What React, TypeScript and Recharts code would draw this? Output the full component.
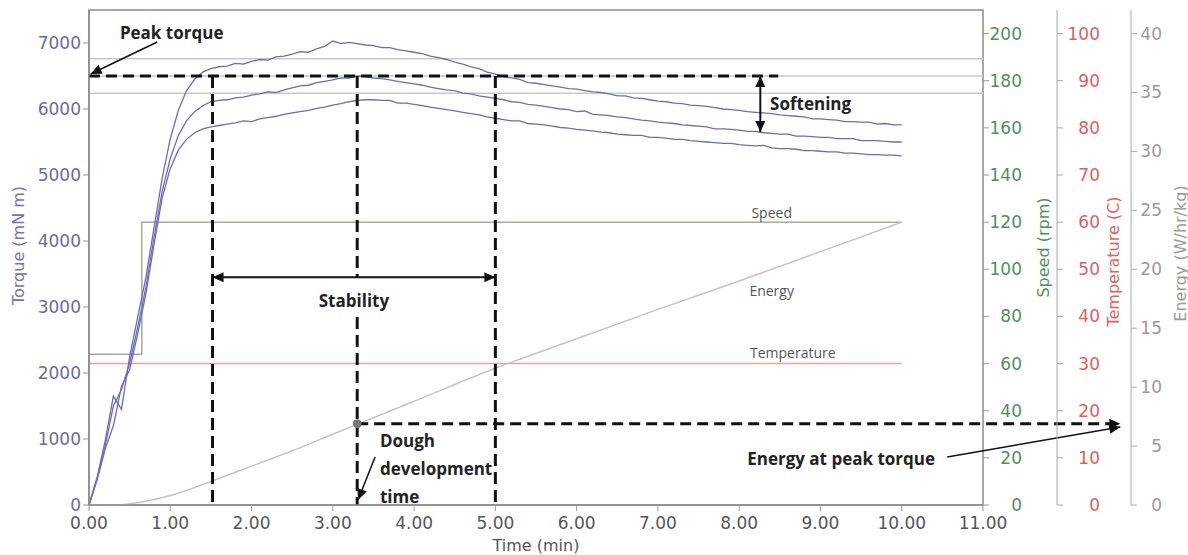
import React from 'react';
import {
  ComposedChart, Line, XAxis, YAxis, ReferenceLine, ReferenceArea, ReferenceDot,
} from 'recharts';

// time grid (min) for the three torque traces
const TIME = [
  0.0, 0.1, 0.2, 0.3, 0.4, 0.5, 0.6, 0.7, 0.8, 0.9,
  1.0, 1.1, 1.2, 1.3, 1.4, 1.5, 1.6, 1.7, 1.8, 1.9,
  2.0, 2.1, 2.2, 2.3, 2.4, 2.5, 2.6, 2.7, 2.8, 2.9,
  3.0, 3.1, 3.2, 3.3, 3.4, 3.5, 3.6, 3.7, 3.8, 3.9,
  4.0, 4.1, 4.2, 4.3, 4.4, 4.5, 4.6, 4.7, 4.8, 4.9,
  5.0, 5.1, 5.2, 5.3, 5.4, 5.5, 5.6, 5.7, 5.8, 5.9,
  6.0, 6.1, 6.2, 6.3, 6.4, 6.5, 6.6, 6.7, 6.8, 6.9,
  7.0, 7.1, 7.2, 7.3, 7.4, 7.5, 7.6, 7.7, 7.8, 7.9,
  8.0, 8.1, 8.2, 8.3, 8.4, 8.5, 8.6, 8.7, 8.8, 8.9,
  9.0, 9.1, 9.2, 9.3, 9.4, 9.5, 9.6, 9.7, 9.8, 9.9,
  10.0,
];

const TORQUE_UPPER = [
  0, 420, 980, 1650, 1450, 2250, 2850, 3450, 4200, 4950,
  5550, 5980, 6280, 6450, 6560, 6610, 6640, 6650, 6690, 6680,
  6720, 6750, 6740, 6790, 6800, 6830, 6870, 6860, 6910, 6950,
  7030, 6990, 7010, 6990, 6970, 6960, 6930, 6930, 6900, 6880,
  6860, 6840, 6800, 6780, 6750, 6710, 6680, 6640, 6610, 6560,
  6530, 6490, 6470, 6450, 6400, 6390, 6370, 6350, 6330, 6310,
  6300, 6280, 6260, 6250, 6230, 6200, 6200, 6170, 6160, 6140,
  6120, 6110, 6090, 6080, 6060, 6050, 6040, 6020, 6000, 5990,
  5980, 5960, 5950, 5940, 5930, 5910, 5900, 5890, 5880, 5850,
  5850, 5840, 5830, 5810, 5810, 5800, 5800, 5770, 5780, 5760,
  5760,
];

const TORQUE_MIDDLE = [
  0, 400, 900, 1500, 1750, 2150, 2700, 3300, 4050, 4750,
  5250, 5600, 5820, 5960, 6050, 6110, 6130, 6140, 6170, 6180,
  6210, 6230, 6260, 6250, 6290, 6320, 6350, 6360, 6400, 6420,
  6440, 6470, 6470, 6500, 6490, 6470, 6460, 6440, 6420, 6400,
  6380, 6360, 6330, 6310, 6290, 6280, 6240, 6230, 6200, 6180,
  6160, 6140, 6110, 6100, 6070, 6060, 6040, 6020, 6000, 5990,
  5960, 5970, 5920, 5910, 5900, 5880, 5870, 5850, 5830, 5820,
  5800, 5790, 5780, 5760, 5750, 5740, 5730, 5700, 5700, 5690,
  5680, 5660, 5660, 5640, 5630, 5620, 5620, 5590, 5590, 5580,
  5570, 5570, 5550, 5550, 5550, 5520, 5520, 5520, 5510, 5500,
  5500,
];

const TORQUE_LOWER = [
  0, 380, 850, 1200, 1800, 2050, 2600, 3200, 3950, 4650,
  5100, 5380, 5540, 5640, 5700, 5730, 5750, 5770, 5790, 5820,
  5810, 5850, 5870, 5890, 5920, 5940, 5960, 5980, 6010, 6030,
  6060, 6080, 6110, 6130, 6140, 6140, 6130, 6130, 6090, 6090,
  6070, 6050, 6030, 6010, 5990, 5970, 5950, 5930, 5910, 5880,
  5860, 5840, 5820, 5820, 5780, 5770, 5760, 5740, 5720, 5710,
  5690, 5680, 5670, 5650, 5640, 5620, 5610, 5600, 5600, 5570,
  5570, 5560, 5540, 5540, 5520, 5510, 5500, 5490, 5480, 5480,
  5460, 5450, 5440, 5450, 5410, 5400, 5400, 5390, 5370, 5370,
  5360, 5350, 5350, 5330, 5330, 5320, 5310, 5310, 5300, 5300,
  5290,
];

const SPEED_TIME = [0, 0.65, 0.65, 10];
const SPEED_RPM = [64, 64, 120, 120];

const TEMP_TIME = [0, 10];
const TEMP_C = [30, 30];

const ENERGY_TIME = [0, 0.3, 0.6, 1.0, 1.5, 2.0, 2.5, 3.0, 3.5, 4.0, 5.0, 6.0, 7.0, 8.0, 9.0, 10.0];
const ENERGY_WHKG = [0, 0, 0.2, 0.8, 2.0, 3.3, 4.6, 6.0, 7.4, 8.8, 11.6, 14.1, 16.6, 19.0, 21.5, 24.0];

const X_TICKS = [0, 1, 2, 3, 4, 5, 6, 7, 8, 9, 10, 11];
const TORQUE_TICKS = [0, 1000, 2000, 3000, 4000, 5000, 6000, 7000];
const SPEED_TICKS = [0, 20, 40, 60, 80, 100, 120, 140, 160, 180, 200];
const TEMP_TICKS = [0, 10, 20, 30, 40, 50, 60, 70, 80, 90, 100];
const ENERGY_TICKS = [0, 5, 10, 15, 20, 25, 30, 35, 40];

// annotation values
const PEAK_TORQUE = 6500;
const BAND_LINES = [6760, 6500, 6240];
const STABILITY_START = 1.52;
const DDT = 3.3;
const STABILITY_END = 5.0;
const SOFTENING_AT = 8.26;
const SOFTENING_LOW = 5650;
const ENERGY_AT_PEAK = 6.9;

// axis ids sort in the order the right-hand axes are stacked
const AX_TORQUE = 'a0';
const AX_SPEED = 'r1';
const AX_TEMP = 'r2';
const AX_ENERGY = 'r3';

const TORQUE_COLOR = '#6c6cba';
const TICK_FONT = 'DejaVu Sans';
const NOTE_FONT = '"Open Sans", sans-serif';

const pairs = (xs: number[], ys: number[]) => xs.map((t, i) => ({ t, v: ys[i] }));

const upperData = pairs(TIME, TORQUE_UPPER);
const middleData = pairs(TIME, TORQUE_MIDDLE);
const lowerData = pairs(TIME, TORQUE_LOWER);
const speedData = pairs(SPEED_TIME, SPEED_RPM);
const tempData = pairs(TEMP_TIME, TEMP_C);
const energyData = pairs(ENERGY_TIME, ENERGY_WHKG);

const headPoints = (x1: number, y1: number, x2: number, y2: number, len = 11, half = 5) => {
  const a = Math.atan2(y2 - y1, x2 - x1);
  const bx = x2 - len * Math.cos(a);
  const by = y2 - len * Math.sin(a);
  const px = -Math.sin(a) * half;
  const py = Math.cos(a) * half;
  return `${x2},${y2} ${bx + px},${by + py} ${bx - px},${by - py}`;
};

type ArrowOpts = { start?: boolean; end?: boolean; dash?: string; width?: number };

const arrow = ({ start, end, dash, width = 2 }: ArrowOpts) => (p: any) => {
  const { x1, y1, x2, y2 } = p;
  return (
    <g>
      <line x1={x1} y1={y1} x2={x2} y2={y2} stroke="#111" strokeWidth={width} strokeDasharray={dash} />
      {end && <polygon points={headPoints(x1, y1, x2, y2)} fill="#111" />}
      {start && <polygon points={headPoints(x2, y2, x1, y1)} fill="#111" />}
    </g>
  );
};

const note = (lines: string[], opts: { anchor?: 'start' | 'middle' | 'end'; bold?: boolean; size?: number; color?: string; bg?: boolean; gap?: number } = {}) =>
  (p: any) => {
    const { anchor = 'start', bold = true, size = 17, color = '#222', bg = false, gap = 28 } = opts;
    return (
      <g>
        {bg && <rect x={p.cx - 40} y={p.cy - 14} width={80} height={28} fill="#fff" />}
        <text
          x={p.cx}
          y={p.cy}
          textAnchor={anchor}
          dominantBaseline="central"
          fontFamily={NOTE_FONT}
          fontWeight={bold ? 700 : 400}
          fontSize={size}
          fill={color}
        >
          {lines.map((l, i) => (
            <tspan key={l} x={p.cx} dy={i === 0 ? 0 : gap}>{l}</tspan>
          ))}
        </text>
      </g>
    );
  };

const rightTick = (color: string, dx: number) => (p: any) => (
  <text x={p.x + dx} y={p.y} dy="0.35em" textAnchor="end" fill={color} fontSize={17} fontFamily={TICK_FONT}>
    {p.payload.value}
  </text>
);

const vTitle = (text: string, color: string, dx: number, dy: number) => (p: any) => {
  const vb = p.viewBox;
  const cx = vb.x + dx;
  const cy = vb.y + vb.height / 2 + dy;
  return (
    <text
      x={cx}
      y={cy}
      transform={`rotate(-90, ${cx}, ${cy})`}
      textAnchor="middle"
      dominantBaseline="central"
      fill={color}
      fontSize={16}
      fontFamily={TICK_FONT}
    >
      {text}
    </text>
  );
};

const timeTitle = (p: any) => {
  const vb = p.viewBox;
  return (
    <text x={vb.x + vb.width / 2} y={vb.y + 40} textAnchor="middle" dominantBaseline="central" fill="#555" fontSize={16} fontFamily={TICK_FONT}>
      Time (min)
    </text>
  );
};

export default function App() {
  return (
    <div style={{ position: 'absolute', left: 0, top: 0, background: '#fff' }}>
      <ComposedChart width={1188} height={555} margin={{ top: 10, right: 0, bottom: 0, left: 0 }}>
        <XAxis
          dataKey="t"
          type="number"
          domain={[0, 11]}
          ticks={X_TICKS}
          tickFormatter={(v: number) => v.toFixed(2)}
          height={50}
          tick={{ fill: '#555', fontSize: 17, fontFamily: TICK_FONT }}
          tickLine={{ stroke: '#999' }}
          axisLine={{ stroke: '#8c8c8c', strokeWidth: 1.5 }}
          tickMargin={6}
          label={timeTitle}
        />
        <YAxis
          yAxisId={AX_TORQUE}
          orientation="left"
          width={89}
          domain={[0, 7500]}
          ticks={TORQUE_TICKS}
          tick={{ fill: '#6a6aa6', fontSize: 17, fontFamily: TICK_FONT }}
          tickLine={{ stroke: '#999' }}
          axisLine={{ stroke: '#8c8c8c', strokeWidth: 1.5 }}
          label={vTitle('Torque (mN m)', '#7373b0', 18, -12)}
        />
        <YAxis
          yAxisId={AX_SPEED}
          orientation="right"
          width={74}
          domain={[0, 210]}
          ticks={SPEED_TICKS}
          tick={rightTick('#4f8f5f', 31)}
          tickLine={{ stroke: '#999' }}
          axisLine={false}
          label={vTitle('Speed (rpm)', '#4f8f5f', 60, -10)}
        />
        <YAxis
          yAxisId={AX_TEMP}
          orientation="right"
          width={74}
          domain={[0, 105]}
          ticks={TEMP_TICKS}
          tick={rightTick('#e06060', 35)}
          tickLine={{ stroke: '#aaa' }}
          axisLine={{ stroke: '#aaa' }}
          label={vTitle('Temperature (C)', '#e06060', 56, 4)}
        />
        <YAxis
          yAxisId={AX_ENERGY}
          orientation="right"
          width={57}
          domain={[0, 42]}
          ticks={ENERGY_TICKS}
          tick={rightTick('#9a9a9a', 23)}
          tickLine={{ stroke: '#aaa' }}
          axisLine={{ stroke: '#aaa' }}
          label={vTitle('Energy (W/hr/kg)', '#9a9a9a', 49, -4)}
        />

        <ReferenceArea yAxisId={AX_TORQUE} x1={0} x2={11} y1={0} y2={7500} fill="none" stroke="#8c8c8c" strokeWidth={1.5} ifOverflow="visible" />
        {BAND_LINES.map((y) => (
          <ReferenceLine key={y} yAxisId={AX_TORQUE} y={y} stroke="#c9c9c9" strokeWidth={1.5} />
        ))}

        <Line yAxisId={AX_TEMP} data={tempData} dataKey="v" stroke="#e8a4a4" strokeWidth={1.5} dot={false} isAnimationActive={false} />
        <Line yAxisId={AX_SPEED} data={speedData} dataKey="v" stroke="#a3ac98" strokeWidth={1.5} dot={false} isAnimationActive={false} />
        <Line yAxisId={AX_ENERGY} data={energyData} dataKey="v" type="monotone" stroke="#c4c4c4" strokeWidth={1.5} dot={false} isAnimationActive={false} />
        <Line yAxisId={AX_TORQUE} data={lowerData} dataKey="v" stroke={TORQUE_COLOR} strokeWidth={1.3} dot={false} isAnimationActive={false} />
        <Line yAxisId={AX_TORQUE} data={middleData} dataKey="v" stroke={TORQUE_COLOR} strokeWidth={1.3} dot={false} isAnimationActive={false} />
        <Line yAxisId={AX_TORQUE} data={upperData} dataKey="v" stroke={TORQUE_COLOR} strokeWidth={1.3} dot={false} isAnimationActive={false} />

        {/* peak torque guide and the time markers */}
        <ReferenceLine yAxisId={AX_TORQUE} segment={[{ x: 0, y: PEAK_TORQUE }, { x: 8.48, y: PEAK_TORQUE }]} ifOverflow="visible" shape={arrow({ dash: '11 6', width: 3 })} />
        <ReferenceLine yAxisId={AX_TORQUE} segment={[{ x: STABILITY_START, y: PEAK_TORQUE }, { x: STABILITY_START, y: 0 }]} shape={arrow({ dash: '12 6', width: 3 })} />
        <ReferenceLine yAxisId={AX_TORQUE} segment={[{ x: DDT, y: PEAK_TORQUE }, { x: DDT, y: 3450 }]} shape={arrow({ dash: '12 6', width: 3 })} />
        <ReferenceLine yAxisId={AX_TORQUE} segment={[{ x: DDT, y: 2850 }, { x: DDT, y: 0 }]} shape={arrow({ dash: '12 6', width: 3 })} />
        <ReferenceLine yAxisId={AX_TORQUE} segment={[{ x: STABILITY_END, y: PEAK_TORQUE }, { x: STABILITY_END, y: 0 }]} shape={arrow({ dash: '12 6', width: 3 })} />
        <ReferenceLine yAxisId={AX_TORQUE} segment={[{ x: STABILITY_START, y: 3450 }, { x: STABILITY_END, y: 3450 }]} shape={arrow({ start: true, end: true, width: 2 })} />
        <ReferenceLine yAxisId={AX_TORQUE} segment={[{ x: SOFTENING_AT, y: PEAK_TORQUE }, { x: SOFTENING_AT, y: SOFTENING_LOW }]} shape={arrow({ start: true, end: true, width: 2 })} />
        <ReferenceLine yAxisId={AX_TORQUE} segment={[{ x: 0.84, y: 7015 }, { x: 0.02, y: 6530 }]} ifOverflow="visible" shape={arrow({ end: true, width: 1.5 })} />
        <ReferenceLine yAxisId={AX_TORQUE} segment={[{ x: 3.52, y: 727 }, { x: 3.31, y: 76 }]} shape={arrow({ end: true, width: 1.5 })} />
        <ReferenceLine yAxisId={AX_ENERGY} segment={[{ x: DDT, y: ENERGY_AT_PEAK }, { x: 12.69, y: ENERGY_AT_PEAK }]} ifOverflow="visible" shape={arrow({ end: true, dash: '11 6', width: 3 })} />
        <ReferenceLine yAxisId={AX_TORQUE} segment={[{ x: 10.56, y: 727 }, { x: 12.69, y: 1182 }]} ifOverflow="visible" shape={arrow({ end: true, width: 1.5 })} />

        <ReferenceDot yAxisId={AX_ENERGY} x={DDT} y={ENERGY_AT_PEAK} r={4} fill="#777" stroke="#777" />

        {/* text notes */}
        <ReferenceDot yAxisId={AX_TORQUE} x={0.38} y={7167} ifOverflow="visible" shape={note(['Peak torque'])} />
        <ReferenceDot yAxisId={AX_TORQUE} x={8.38} y={6090} shape={note(['Softening'])} />
        <ReferenceDot yAxisId={AX_TORQUE} x={3.26} y={3106} shape={note(['Stability'], { anchor: 'middle', bg: true })} />
        <ReferenceDot yAxisId={AX_TORQUE} x={3.58} y={985} shape={note(['Dough', 'development', 'time'])} />
        <ReferenceDot yAxisId={AX_TORQUE} x={10.41} y={712} ifOverflow="visible" shape={note(['Energy at peak torque'], { anchor: 'end' })} />
        <ReferenceDot yAxisId={AX_TORQUE} x={8.4} y={4439} shape={note(['Speed'], { anchor: 'middle', bold: false, size: 14, color: '#555' })} />
        <ReferenceDot yAxisId={AX_TORQUE} x={8.4} y={3258} shape={note(['Energy'], { anchor: 'middle', bold: false, size: 14, color: '#555' })} />
        <ReferenceDot yAxisId={AX_TORQUE} x={8.66} y={2318} shape={note(['Temperature'], { anchor: 'middle', bold: false, size: 14, color: '#555' })} />
      </ComposedChart>
    </div>
  );
}
